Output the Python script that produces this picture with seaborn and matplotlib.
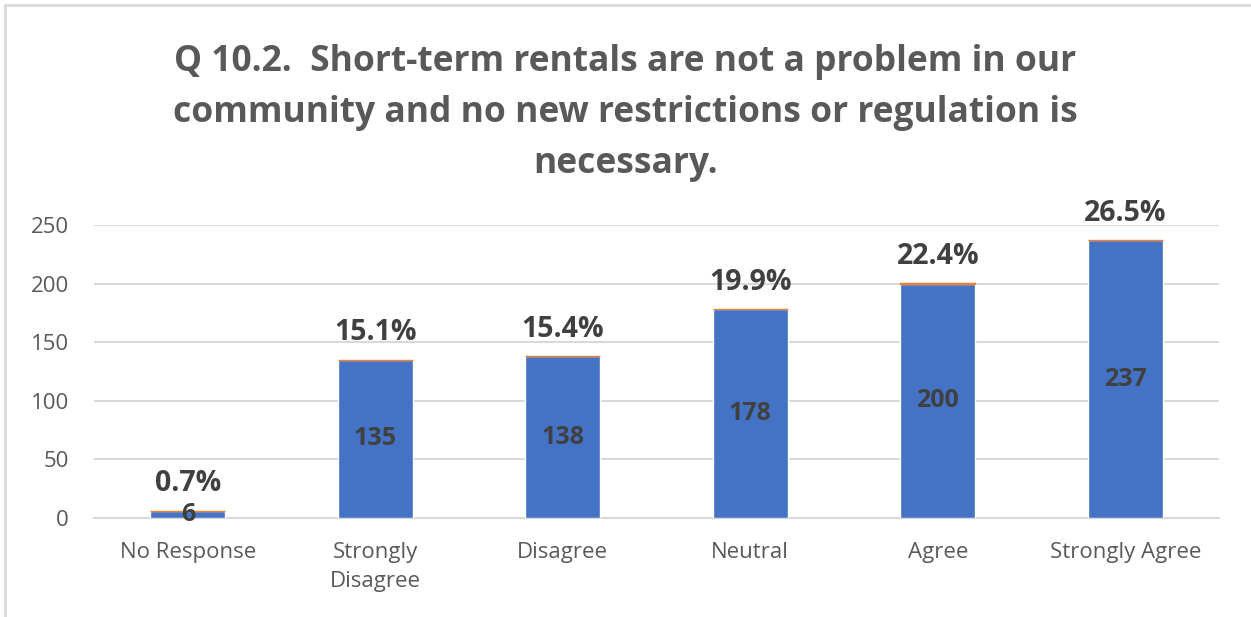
import matplotlib
matplotlib.use('Agg')
import matplotlib.pyplot as plt
import seaborn as sns
import pandas as pd

# survey results
categories = ['No Response', 'Strongly\nDisagree', 'Disagree', 'Neutral', 'Agree', 'Strongly Agree']
counts = [6, 135, 138, 178, 200, 237]
percents = [0.7, 15.1, 15.4, 19.9, 22.4, 26.5]

df = pd.DataFrame({'category': categories, 'count': counts, 'pct': percents})

sns.set_style('white')
plt.rcParams['font.family'] = ['Open Sans', 'DejaVu Sans']

fig = plt.figure(figsize=(12.51, 6.17), dpi=100)
ax = fig.add_axes([94 / 1251, 1 - 518 / 617, 1125 / 1251, 293 / 617])

sns.barplot(data=df, x='category', y='count', color='#4472c4', width=0.4,
            saturation=1, ax=ax, zorder=3)
# thin orange percentage series stacked on top
ax.bar(range(len(df)), df['pct'] / 100, bottom=df['count'], width=0.4,
       color='#ed7d31', edgecolor='#ed7d31', linewidth=1.0, zorder=3)

for i, row in df.iterrows():
    ax.text(i, row['count'] / 2, f"{row['count']}", ha='center', va='center',
            fontsize=18, fontweight='bold', color='#404040', zorder=4)
    ax.annotate(f"{row['pct']:.1f}%", (i, row['count']), xytext=(0, 9),
                textcoords='offset points', ha='center', va='bottom',
                fontsize=20.5, fontweight='bold', color='#404040', zorder=4)

ax.set_ylim(0, 250)
ax.set_xlim(-0.5, 5.5)
ax.set_yticks(range(0, 251, 50))
ax.yaxis.grid(True, color='#d9d9d9', linewidth=1.5, zorder=0)
ax.set_xlabel('')
ax.set_ylabel('')
ax.tick_params(axis='both', length=0, labelsize=16, labelcolor='#595959')
ax.tick_params(axis='x', pad=17)
ax.tick_params(axis='y', pad=18)
for lbl in ax.get_xticklabels():
    lbl.set_linespacing(1.5)
for s in ['top', 'right', 'left']:
    ax.spines[s].set_visible(False)
ax.spines['bottom'].set_color('#d9d9d9')
ax.spines['bottom'].set_linewidth(1.5)

fig.suptitle('Q 10.2.  Short-term rentals are not a problem in our\n'
             'community and no new restrictions or regulation is\nnecessary.',
             y=1 - 44 / 617, va='top', fontsize=25.5, fontweight='bold',
             color='#595959', linespacing=1.55)

# light chart border
fig.add_artist(plt.Rectangle((5 / 1251, -0.1), 1.2, 1 - 5 / 617 + 0.1,
                             transform=fig.transFigure, fill=False,
                             edgecolor='#d9d9d9', linewidth=2))

fig.savefig('out.png', dpi=100)
